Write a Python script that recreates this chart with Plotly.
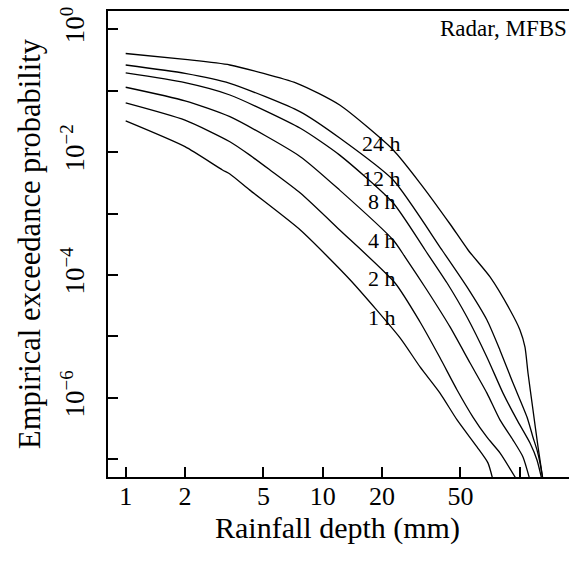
import math
import plotly.graph_objects as go

# ---- data (rainfall depth in mm, exceedance probability) ----
depth_1h = [1.0, 2.0, 3.1, 3.38, 4.27, 7.7, 13.8, 24.7, 31.2, 39.4, 48.1, 60.7, 69.0, 73.2]
prob_1h = [0.032, 0.0122, 5.1e-3, 4.4e-3, 2.4e-3, 5.4e-4, 8.3e-5, 9.5e-6, 3.2e-6, 1.2e-6, 4.4e-7, 1.6e-7, 8.8e-8, 4.6e-8]

depth_2h = [1.0, 2.0, 3.38, 4.27, 5.4, 7.7, 12.2, 23.3, 31.2, 39.4, 48.1, 57.9, 68.2, 79.4, 96.9]
prob_2h = [0.063, 0.033, 0.0147, 8.9e-3, 5.1e-3, 2.15e-3, 5.4e-4, 7.4e-5, 1.72e-5, 4.5e-6, 1.35e-6, 4.9e-7, 2.3e-7, 1.28e-7, 4.6e-8]

depth_4h = [1.0, 2.0, 3.38, 7.7, 12.2, 22.8, 26.2, 33.8, 44.3, 56.0, 68.2, 79.4, 92.5, 103.9, 112.8]
prob_4h = [0.113, 0.068, 0.0375, 8.4e-3, 2.4e-3, 3.7e-4, 1.96e-4, 5.7e-5, 1.43e-5, 3.7e-6, 1.2e-6, 4.4e-7, 2.07e-7, 1.1e-7, 4.6e-8]

depth_8h = [1.0, 2.0, 3.38, 7.7, 12.2, 22.8, 33.1, 42.8, 54.0, 68.2, 82.3, 96.9, 112.8, 122.4, 129.8]
prob_8h = [0.193, 0.134, 0.0845, 0.0243, 8.9e-3, 1.48e-3, 2.55e-4, 7.4e-5, 2.07e-5, 4.6e-6, 1.2e-6, 4.4e-7, 1.85e-7, 9.8e-8, 4.6e-8]

depth_12h = [1.0, 2.0, 3.38, 7.7, 12.2, 22.8, 40.3, 54.0, 68.2, 79.4, 92.5, 108.9, 116.8, 122.4, 126.8, 131.3]
prob_12h = [0.26, 0.19, 0.131, 0.045, 0.0169, 3.5e-3, 2.55e-4, 6.4e-5, 1.85e-5, 6.0e-6, 1.75e-6, 4.9e-7, 2.3e-7, 1.43e-7, 8.8e-8, 4.6e-8]

depth_24h = [1.0, 2.0, 3.38, 7.4, 12.2, 22.8, 31.2, 44.3, 54.7, 70.7, 89.3, 100.3, 106.4, 110.2, 116.8, 123.9, 131.3]
prob_24h = [0.40, 0.32, 0.26, 0.131, 0.058, 0.0108, 3.13e-3, 6.75e-4, 2.55e-4, 9.3e-5, 2.7e-5, 1.28e-5, 6.7e-6, 2.55e-6, 6.4e-7, 1.6e-7, 4.6e-8]

durations = ["1 h", "2 h", "4 h", "8 h", "12 h", "24 h"]
label_x = 20
label_p = [2.07e-5, 8.9e-5, 3.7e-4, 1.54e-3, 3.64e-3, 1.35e-2]

x_tickvals = [1, 2, 5, 10, 20, 50, 100]
x_ticktext = ["1", "2", "5", "10", "20", "50", ""]
y_tickvals = [1, 1e-1, 1e-2, 1e-3, 1e-4, 1e-5, 1e-6, 1e-7]
y_ticktext = ["10<sup>0</sup>", "", "10<sup>\u22122</sup>", "", "10<sup>\u22124</sup>", "", "10<sup>\u22126</sup>", ""]

FONT = "Liberation Serif"

series = [
    (depth_1h, prob_1h), (depth_2h, prob_2h), (depth_4h, prob_4h),
    (depth_8h, prob_8h), (depth_12h, prob_12h), (depth_24h, prob_24h),
]

fig = go.Figure()
for name, (d, p) in zip(durations, series):
    fig.add_trace(go.Scatter(x=d, y=p, mode="lines", name=name,
                             line=dict(color="black", width=1.3, shape="spline", smoothing=0.6),
                             showlegend=False))

for name, lp in zip(durations, label_p):
    fig.add_annotation(x=math.log10(label_x), y=math.log10(lp), xref="x", yref="y",
                       text=name, showarrow=False, xanchor="center", yanchor="middle",
                       font=dict(family=FONT, size=22, color="black"))

fig.add_annotation(x=1, y=0.9635, xref="paper", yref="paper", text="Radar, MFBS",
                   showarrow=False, xanchor="right", yanchor="middle",
                   font=dict(family=FONT, size=23, color="black"))

# x-axis title placed as text just below the tick labels
fig.add_annotation(x=0.498, y=-0.109, xref="paper", yref="paper", text="Rainfall depth (mm)",
                   showarrow=False, xanchor="center", yanchor="middle",
                   font=dict(family=FONT, size=30, color="black"))

fig.update_layout(
    width=569, height=569,
    margin=dict(l=108, r=0, t=11, b=92),
    paper_bgcolor="white", plot_bgcolor="white",
    font=dict(family=FONT, color="black"),
    xaxis=dict(type="log", range=[-0.0898, 2.2503],
               tickvals=x_tickvals, ticktext=x_ticktext,
               ticks="inside", ticklen=10, tickwidth=1.5, tickcolor="black",
               showline=True, linecolor="black", linewidth=2, mirror=True,
               showgrid=False, zeroline=False,
               tickfont=dict(family=FONT, size=26),
               ticklabelstandoff=-5),
    yaxis=dict(type="log", range=[-7.285, 0.293],
               tickvals=y_tickvals, ticktext=y_ticktext,
               ticks="inside", ticklen=10, tickwidth=1.5, tickcolor="black",
               showline=True, linecolor="black", linewidth=2, mirror=False,
               showgrid=False, zeroline=False, tickangle=-90,
               tickfont=dict(family=FONT, size=27),
               ticklabelstandoff=11,
               title=dict(text="Empirical exceedance probability", font=dict(family=FONT, size=30.5), standoff=6)),
)

fig.write_html("out.html")
